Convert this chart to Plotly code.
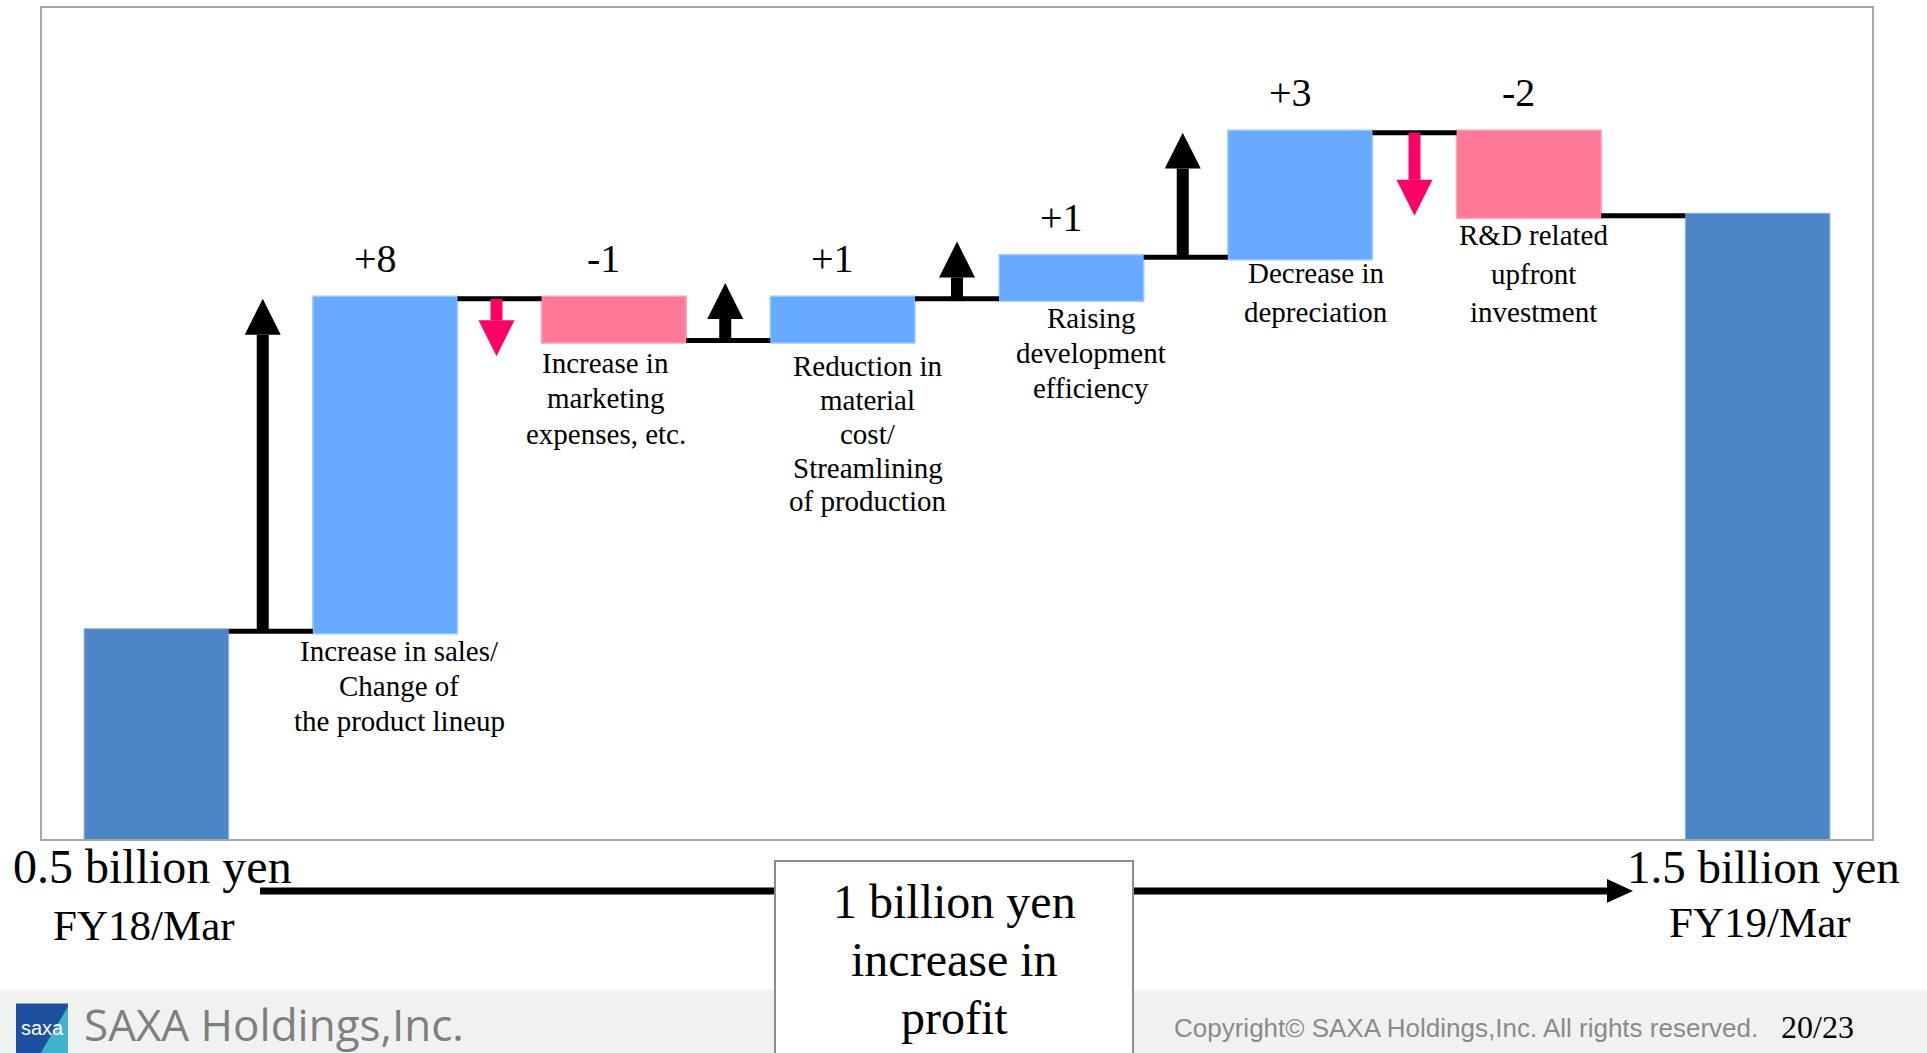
import plotly.graph_objects as go

# ---------------- data (unit: 100 million yen) ----------------
categories = [
    "FY18/Mar",
    "Increase in sales/<br>Change of<br>the product lineup",
    "Increase in<br>marketing<br>expenses, etc.",
    "Reduction in<br>material<br>cost/<br>Streamlining<br>of production",
    "Raising<br>development<br>efficiency",
    "Decrease in<br>depreciation",
    "R&D related<br>upfront<br>investment",
    "FY19/Mar",
]
start_value = 5
deltas = [8, -1, 1, 1, 3, -2]
start_amount_label = "0.5 billion yen"
end_amount_label = "1.5 billion yen"
start_period_label = "FY18/Mar"
end_period_label = "FY19/Mar"
summary_lines = ["1 billion yen", "increase in", "profit"]
company_name = "SAXA Holdings,Inc."
copyright_text = "Copyright\u00a9 SAXA Holdings,Inc. All rights reserved."
page_label = "20/23"

# ---------------- geometry / style ----------------
W, H = 1927, 1053
PL, PR, PT, PB = 42, 1872, 6, 839
Y_MAX = 20
SERIF = "Liberation Serif, Times New Roman, serif"
SANS = "Liberation Sans, Arial, sans-serif"

C_TOTAL = "#4D85C6"
C_INC = "#66AAFF"
C_DEC = "#FF7896"
C_ARROW_DOWN = "#FF0066"

# per-label pixel tweaks (style only)
label_xshift = [14, -8, 25, 20, 16, 5]
label_first_gap = [19.4, 22.1, 25.8, 19.5, 15.7, 19.3]
label_line_gap = [35, 35.6, 33.8, 35, 39, 38.7]
arrow_xshift_px = [-8, -3, -3, 0, -3, 0]

px_per_x = (PR - PL) / 8.0
px_per_y = (PB - PT) / Y_MAX
HEAD_H = 36 / px_per_y
HEAD_HW = 18 / px_per_x
MIN_ARROW = 1.38


def px2x(px):
    return (px - PL) / (PR - PL)


def py2y(py):
    return (PB - py) / (PB - PT)


n = len(categories)
xs = list(range(n))
measures = ["absolute"] + ["relative"] * len(deltas) + ["total"]
yvals = [start_value] + deltas + [0]

levels = [start_value]
for d in deltas:
    levels.append(levels[-1] + d)

fig = go.Figure()
fig.add_trace(go.Waterfall(
    x=xs,
    y=yvals,
    measure=measures,
    textposition="none",
    increasing=dict(marker=dict(color=C_INC, line=dict(color="#9CC8FF", width=1.5))),
    decreasing=dict(marker=dict(color=C_DEC, line=dict(color="#FFA0B6", width=1.5))),
    totals=dict(marker=dict(color=C_TOTAL, line=dict(color="#8FB0DC", width=1))),
    connector=dict(mode="between", line=dict(color="black", width=5)),
    hoverinfo="skip",
    showlegend=False,
))

shapes = []
annotations = []

# arrows in the gaps + value labels + category labels
for k, d in enumerate(deltas, start=1):
    before, after = levels[k - 1], levels[k]
    gx = k - 0.5 + arrow_xshift_px[k - 1] / px_per_x
    sign = 1 if d > 0 else -1
    length = max(abs(d), MIN_ARROW)
    tip = before + sign * length
    base = tip - sign * HEAD_H
    col = "black" if d > 0 else C_ARROW_DOWN
    shapes.append(dict(type="line", xref="x", yref="y", x0=gx, x1=gx, y0=before, y1=base,
                       line=dict(color=col, width=12)))
    shapes.append(dict(type="path", xref="x", yref="y",
                       path=f"M {gx - HEAD_HW},{base} L {gx + HEAD_HW},{base} L {gx},{tip} Z",
                       fillcolor=col, line=dict(width=0)))
    top = max(before, after)
    bottom = min(before, after)
    annotations.append(dict(x=k, y=top, xref="x", yref="y", text=f"{d:+d}", showarrow=False,
                            xanchor="center", yanchor="middle", xshift=-10, yshift=40,
                            font=dict(family=SERIF, size=40, color="black")))
    for j, line in enumerate(categories[k].split("<br>")):
        annotations.append(dict(x=k, y=bottom, xref="x", yref="y", text=line, showarrow=False,
                                xanchor="center", yanchor="middle",
                                xshift=label_xshift[k - 1],
                                yshift=-(label_first_gap[k - 1] + j * label_line_gap[k - 1]),
                                font=dict(family=SERIF, size=29, color="black")))

# footer band
shapes.append(dict(type="rect", xref="paper", yref="paper", x0=px2x(0), x1=px2x(W),
                   y0=py2y(990), y1=py2y(H + 5), fillcolor="#F0F2F2", line=dict(width=0)))
# logo
shapes.append(dict(type="rect", xref="paper", yref="paper", x0=px2x(16), x1=px2x(68),
                   y0=py2y(1004), y1=py2y(H + 5), fillcolor="#1D4F9F", line=dict(width=0)))
shapes.append(dict(type="path", xref="paper", yref="paper",
                   path=f"M {px2x(68)},{py2y(1007)} L {px2x(68)},{py2y(H + 5)} L {px2x(38)},{py2y(H + 5)} Z",
                   fillcolor="#3FB3C9", line=dict(width=0)))

# bottom arrow
shapes.append(dict(type="line", xref="paper", yref="paper", x0=px2x(260), x1=px2x(1612),
                   y0=py2y(891), y1=py2y(891), line=dict(color="black", width=7)))
shapes.append(dict(type="path", xref="paper", yref="paper",
                   path=f"M {px2x(1607)},{py2y(879)} L {px2x(1633)},{py2y(891)} L {px2x(1607)},{py2y(903)} Z",
                   fillcolor="black", line=dict(width=0)))
# summary box
shapes.append(dict(type="rect", xref="paper", yref="paper", x0=px2x(775), x1=px2x(1133),
                   y0=py2y(H + 10), y1=py2y(861), fillcolor="white", line=dict(color="#8C8C8C", width=2)))


# bottom texts
def ptext(txt, cx, cy, size, family=SERIF, color="black", xanchor="center"):
    annotations.append(dict(x=px2x(cx), y=py2y(cy), xref="paper", yref="paper", text=txt,
                            showarrow=False, xanchor=xanchor, yanchor="middle",
                            font=dict(family=family, size=size, color=color)))


ptext(start_amount_label, 152, 867, 48)
ptext(start_period_label, 144, 926, 43)
ptext(end_amount_label, 1763, 867, 47)
ptext(end_period_label, 1760, 923, 43)
for j, line in enumerate(summary_lines):
    ptext(line, 954, 902 + 58 * j, 48)

ptext("saxa", 42, 1028, 20, family=SANS, color="white")
ptext(company_name, 82, 1024, 44, family="Open Sans, Noto Sans, sans-serif", color="#7F7F7F", xanchor="left")
ptext(copyright_text, 1172, 1028, 26, family=SANS, color="#8A8A8A", xanchor="left")
ptext(page_label, 1817, 1027, 32)

fig.update_layout(
    width=W, height=H, autosize=False,
    margin=dict(l=PL, r=W - PR, t=PT, b=H - PB, pad=0),
    paper_bgcolor="white", plot_bgcolor="white",
    waterfallgap=0.368,
    showlegend=False,
    xaxis=dict(range=[-0.5, n - 0.5], showticklabels=False, showgrid=False, zeroline=False,
               showline=True, mirror=True, linecolor="#A6A6A6", linewidth=2, ticks="", fixedrange=True),
    yaxis=dict(range=[0, Y_MAX], showticklabels=False, showgrid=False, zeroline=False,
               showline=True, mirror=True, linecolor="#A6A6A6", linewidth=2, ticks="", fixedrange=True),
    shapes=shapes,
    annotations=annotations,
)

fig.write_html("out.html", config={"displayModeBar": False})
